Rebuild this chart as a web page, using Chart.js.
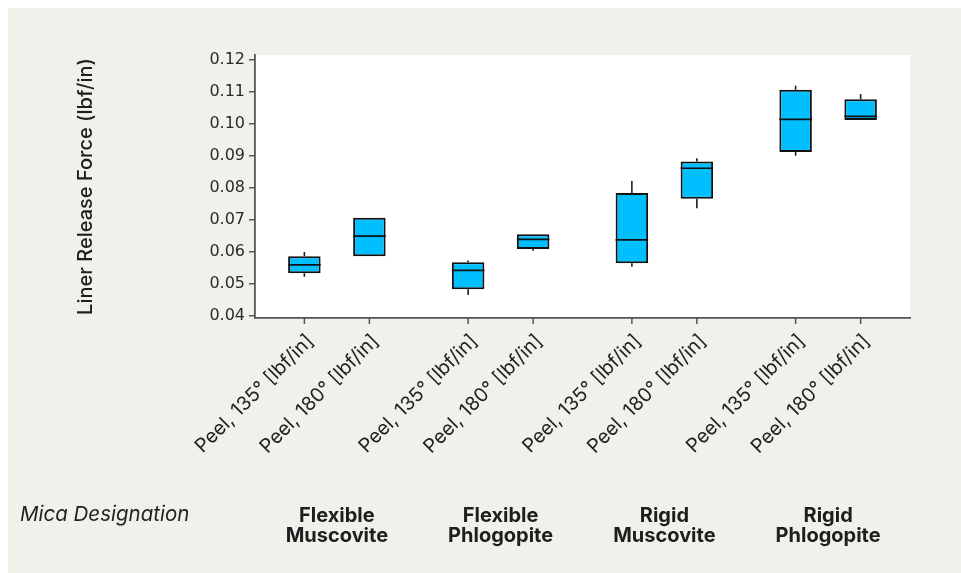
<!DOCTYPE html>
<html>
<head>
<meta charset="utf-8">
<script src="https://cdn.jsdelivr.net/npm/chart.js@4.4.1/dist/chart.umd.min.js"></script>
<style>
  html, body { margin: 0; padding: 0; background: #ffffff; }
  canvas { display: block; }
</style>
</head>
<body>
<canvas id="c" width="961" height="573"></canvas>
<script>
// ---- Data ----
const designations = [['Flexible', 'Muscovite'], ['Flexible', 'Phlogopite'], ['Rigid', 'Muscovite'], ['Rigid', 'Phlogopite']];
const testLabels = ['Peel, 135° [lbf/in]', 'Peel, 180° [lbf/in]'];

const peel135Min    = [0.0523, 0.0466, 0.0554, 0.0901];
const peel135Q1     = [0.0534, 0.0484, 0.0565, 0.0913];
const peel135Median = [0.0560, 0.0543, 0.0638, 0.1015];
const peel135Q3     = [0.0587, 0.0568, 0.0785, 0.1107];
const peel135Max    = [0.0600, 0.0574, 0.0822, 0.1120];

const peel180Min    = [0.0587, 0.0604, 0.0737, 0.1013];
const peel180Q1     = [0.0587, 0.0610, 0.0767, 0.1013];
const peel180Median = [0.0650, 0.0640, 0.0862, 0.1024];
const peel180Q3     = [0.0707, 0.0656, 0.0883, 0.1078];
const peel180Max    = [0.0707, 0.0656, 0.0893, 0.1094];

const yTicks = [0.04, 0.05, 0.06, 0.07, 0.08, 0.09, 0.10, 0.11, 0.12];
const yTitle = 'Liner Release Force (lbf/in)';
const groupTitle = 'Mica Designation';

// ---- Build library structures ----
const stats = [
  { min: peel135Min, q1: peel135Q1, med: peel135Median, q3: peel135Q3, max: peel135Max },
  { min: peel180Min, q1: peel180Q1, med: peel180Median, q3: peel180Q3, max: peel180Max }
];

const BOX_FILL = '#00bfff';
const INK = '#1e1e1e';
const AXIS = '#555555';
const BG = '#f1f0ea';

const datasets = stats.map((s, i) => ({
  label: testLabels[i],
  data: s.q1.map((q1, k) => [q1, s.q3[k]]),
  backgroundColor: BOX_FILL,
  borderColor: '#111111',
  borderWidth: 2,
  borderSkipped: false,
  categoryPercentage: 0.794,
  barPercentage: 0.5
}));

const backgroundPlugin = {
  id: 'bg',
  beforeDraw(chart) {
    const { ctx, chartArea } = chart;
    ctx.save();
    ctx.fillStyle = '#ffffff';
    ctx.fillRect(0, 0, chart.width, chart.height);
    ctx.fillStyle = BG;
    ctx.fillRect(8, 8, chart.width - 8, chart.height - 8);
    ctx.fillStyle = '#ffffff';
    ctx.fillRect(chartArea.left, chartArea.top, chartArea.right - chartArea.left, chartArea.bottom - chartArea.top);
    ctx.restore();
  }
};

const boxPlugin = {
  id: 'boxes',
  beforeDatasetsDraw(chart) {
    const { ctx } = chart;
    const y = chart.scales.y;
    ctx.save();
    ctx.strokeStyle = INK;
    ctx.lineWidth = 1.6;
    stats.forEach((s, di) => {
      const meta = chart.getDatasetMeta(di);
      meta.data.forEach((el, k) => {
        ctx.beginPath();
        ctx.moveTo(el.x, y.getPixelForValue(s.max[k]));
        ctx.lineTo(el.x, y.getPixelForValue(s.q3[k]));
        ctx.moveTo(el.x, y.getPixelForValue(s.q1[k]));
        ctx.lineTo(el.x, y.getPixelForValue(s.min[k]));
        ctx.stroke();
      });
    });
    ctx.restore();
  },
  afterDatasetsDraw(chart) {
    const { ctx } = chart;
    const y = chart.scales.y;
    ctx.save();
    ctx.strokeStyle = '#111111';
    ctx.lineWidth = 1.7;
    stats.forEach((s, di) => {
      const meta = chart.getDatasetMeta(di);
      meta.data.forEach((el, k) => {
        const py = y.getPixelForValue(s.med[k]);
        ctx.beginPath();
        ctx.moveTo(el.x - el.width / 2, py);
        ctx.lineTo(el.x + el.width / 2, py);
        ctx.stroke();
      });
    });
    ctx.restore();
  },
  afterDraw(chart) {
    const { ctx, chartArea } = chart;
    ctx.save();
    stats.forEach((s, di) => {
      const meta = chart.getDatasetMeta(di);
      meta.data.forEach((el) => {
        ctx.strokeStyle = AXIS;
        ctx.lineWidth = 1.5;
        ctx.beginPath();
        ctx.moveTo(el.x, chartArea.bottom);
        ctx.lineTo(el.x, chartArea.bottom + 6);
        ctx.stroke();
        ctx.save();
        ctx.translate(el.x + 6, chartArea.bottom + 20);
        ctx.rotate(-Math.PI / 4);
        ctx.fillStyle = '#222222';
        ctx.font = '400 19.5px Inter, "Open Sans", sans-serif';
        ctx.textAlign = 'right';
        ctx.textBaseline = 'middle';
        ctx.fillText(testLabels[di], 0, 0);
        ctx.restore();
      });
    });
    ctx.fillStyle = '#222222';
    ctx.font = 'italic 400 20.5px Inter, "Open Sans", sans-serif';
    ctx.textAlign = 'left';
    ctx.textBaseline = 'middle';
    ctx.fillText(groupTitle, 20, 515);
    ctx.restore();
  }
};

new Chart(document.getElementById('c'), {
  type: 'bar',
  data: { labels: designations, datasets },
  options: {
    responsive: false,
    animation: false,
    devicePixelRatio: 1,
    layout: { padding: { top: 55, right: 51, bottom: 0, left: 0 } },
    plugins: { legend: { display: false }, tooltip: { enabled: false } },
    scales: {
      x: {
        type: 'category',
        offset: true,
        grid: { display: false },
        border: { display: true, color: AXIS, width: 1.8 },
        ticks: {
          color: '#1e1e1e',
          font: { family: 'Inter, "Open Sans", sans-serif', size: 20, weight: '700', lineHeight: 1.0 },
          padding: 180,
          maxRotation: 0,
          minRotation: 0,
          autoSkip: false
        },
        afterFit(scale) { scale.height = 255; scale.paddingLeft = 0; scale.paddingRight = 0; }
      },
      y: {
        type: 'linear',
        position: 'left',
        min: 0.0394,
        max: 0.1216,
        afterBuildTicks(scale) { scale.ticks = yTicks.map(v => ({ value: v })); },
        afterFit(scale) { scale.width = 255; scale.paddingTop = 0; scale.paddingBottom = 0; },
        grid: { display: true, drawOnChartArea: false, tickLength: 6, color: AXIS, lineWidth: 1.5 },
        border: { display: true, color: AXIS, width: 1.8 },
        ticks: {
          color: '#2a2a2a',
          padding: 4,
          font: { family: '"DejaVu Sans", sans-serif', size: 16 },
          callback: (v) => Number(v).toFixed(2)
        },
        title: {
          display: true,
          text: yTitle,
          color: '#1e1e1e',
          font: { family: 'Inter, "Open Sans", sans-serif', size: 20, weight: '500', lineHeight: 1.2 },
          padding: { top: 74, bottom: 0 }
        }
      }
    }
  },
  plugins: [backgroundPlugin, boxPlugin]
});
</script>
</body>
</html>
